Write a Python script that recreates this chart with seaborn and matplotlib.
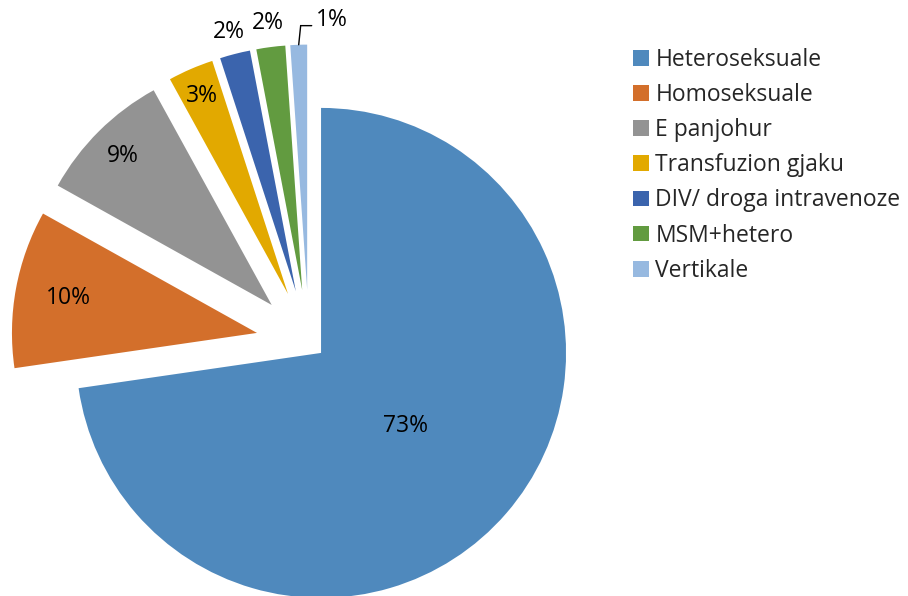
import numpy as np
import matplotlib
matplotlib.use("Agg")
import matplotlib.pyplot as plt
import seaborn as sns
from matplotlib.patches import Patch

# Transmission categories and their shares (%)
categories = ["Heteroseksuale", "Homoseksuale", "E panjohur", "Transfuzion gjaku",
              "DIV/ droga intravenoze", "MSM+hetero", "Vertikale"]
shares = [72.7, 10.4, 8.9, 3.0, 2.0, 1.9, 1.1]
colors_hex = ["#4F89BD", "#D36F2B", "#939393", "#E2A900", "#3B64AD", "#629B40", "#97B9E0"]

sns.set_style("white")
plt.rcParams["font.family"] = ["Open Sans", "DejaVu Sans"]
palette = sns.color_palette(colors_hex)

W, H, DPI = 908, 596, 100
FS = 16.5
fig = plt.figure(figsize=(W / DPI, H / DPI), dpi=DPI)
ax = fig.add_axes([0, 0, 1, 1])

explode = [0.065] + [0.216] * 6
wedges, _ = ax.pie(shares, colors=palette, startangle=90, counterclock=False,
                   explode=explode, radius=1.0, wedgeprops=dict(linewidth=0))

# percentage labels, placed along each wedge's mid-angle
label_dist = [0.456, 0.784, 0.86, 0.88, 1.094, 1.10, None]
cum = np.cumsum([0] + shares)
for i, (s, d) in enumerate(zip(shares, label_dist)):
    mid = 90 - 360 * (cum[i] + s / 2) / 100.0
    t = np.deg2rad(mid)
    txt = f"{s:.0f}%"
    if d is not None:
        r = explode[i] + d
        ax.text(r * np.cos(t), r * np.sin(t), txt, ha="center", va="center",
                fontsize=FS, color="black")
    else:
        # small slice: label outside with an elbow leader line
        r0 = explode[i] + 1.0
        x0, y0 = r0 * np.cos(t), r0 * np.sin(t)
        y1 = y0 + 0.078
        x1 = x0 + 0.053
        ax.plot([x0, x0 + 0.008, x1], [y0, y1, y1], color="black", lw=1,
                solid_joinstyle="miter")
        ax.text(x1 + 0.018, y1 + 0.022, txt, ha="left", va="center",
                fontsize=FS, color="black")

# map data units to pixels: radius of 1 -> 245 px, pie centre at (309, 342.5) from top
R = 245.0
cx, cy = 309.0, 342.5
ax.set_xlim(-cx / R, (W - cx) / R)
ax.set_ylim(-(H - cy) / R, cy / R)
ax.set_aspect("auto")
ax.axis("off")

handles = [Patch(facecolor=c, edgecolor="none") for c in palette]
fig.legend(handles, categories, loc="upper left", bbox_to_anchor=(633 / W, 1 - 48 / H),
           frameon=False, fontsize=FS, handlelength=0.68, handleheight=0.68,
           handletextpad=0.3, labelspacing=0.485, borderaxespad=0, borderpad=0)

fig.savefig("out.png", dpi=DPI)
